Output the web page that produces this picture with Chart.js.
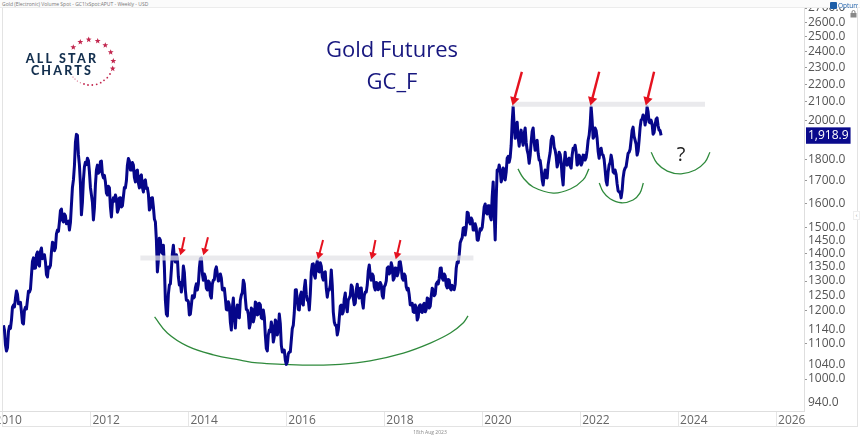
<!DOCTYPE html>
<html><head><meta charset="utf-8">
<script src="https://cdn.jsdelivr.net/npm/chart.js@4"></script>
<style>
html,body{margin:0;padding:0;width:860px;height:438px;overflow:hidden;background:#fff;font-family:"Open Sans",sans-serif}
#wrap{position:absolute;left:-20px;top:0;width:880px;height:438px}
.o{position:absolute;white-space:nowrap;z-index:3}
.t{transform:translate(-50%,-50%)}
</style></head><body>
<div id="wrap"><canvas id="c" width="880" height="438"></canvas></div>
<div class="o" style="left:0;top:0;width:860px;height:8px;background:#fbfbfb;border-bottom:1px solid #ececec;box-sizing:border-box"></div>
<div class="o" style="left:2px;top:1px;font-size:5px;line-height:6px;color:#777">Gold (Electronic) Volume Spot - GC1!xSpot:APUT - Weekly - USD</div>
<div class="o" style="left:2px;top:8px;width:1px;height:419px;background:#e3e3e3"></div>
<div class="o" style="left:857px;top:8px;width:1px;height:419px;background:#e3e3e3"></div>
<div class="o" style="left:2px;top:426px;width:856px;height:1px;background:#e3e3e3"></div>
<div class="o t" style="left:392px;top:48px;font-size:22px;color:#17177f">Gold Futures</div>
<div class="o t" style="left:392px;top:80px;font-size:22px;color:#17177f">GC_F</div>
<div class="o t" style="left:681px;top:153px;font-size:20px;color:#222">?</div>
<div class="o t" style="left:430px;top:432px;font-size:5px;color:#888">18th Aug 2023</div>
<div class="o t" style="left:62px;top:58px;font-family:Lato,sans-serif;font-weight:900;font-size:12.5px;letter-spacing:2.2px;color:#14304f">ALL STAR</div>
<div class="o t" style="left:62px;top:70px;font-family:Lato,sans-serif;font-weight:900;font-size:12.5px;letter-spacing:2.2px;color:#14304f">CHARTS</div>
<svg id="logo" class="o" style="left:0;top:0" width="130" height="95"></svg>
<div class="o" style="left:830px;top:2px;width:7px;height:7px;background:#1c5ea8;border-radius:1px"></div>
<div class="o" style="left:838px;top:1px;width:20px;overflow:hidden;font-size:6.5px;line-height:9px;color:#1c5ea8">Optuma</div>
<svg class="o" style="left:850px;top:10px" width="7" height="8"><rect x="0.5" y="3" width="6" height="4.5" fill="#888"/><path d="M2 3V2a1.5 1.5 0 0 1 3 0V3" fill="none" stroke="#888"/></svg>
<div class="o" style="left:853px;top:211px;width:5px;height:7px;border:1px solid #eee;font-size:5px;line-height:7px;text-align:center;color:#777;background:#fff;box-sizing:content-box">‹</div>
<script>
const firstSampleYear = 2010.224;
const sampleStepYears = 2 / 49;
const prices = [
1155,1095,1087,1152,1171,1219,1242,1255,1225,1197,1159,1212,1235,1262,1321,1383,1346,1405,1353,1420,
1383,1368,1314,1346,1405,1439,1420,1490,1523,1576,1523,1548,1523,1490,1594,1704,1885,1920,1773,1552,
1704,1787,1806,1741,1637,1531,1681,1773,1741,1792,1713,1695,1637,1668,1543,1624,1637,1563,1624,1585,
1629,1668,1773,1792,1750,1773,1695,1750,1668,1727,1650,1704,1668,1572,1624,1585,1523,1332,1458,1405,
1431,1235,1184,1286,1339,1431,1368,1383,1286,1262,1353,1269,1235,1187,1219,1242,1276,1269,1346,1383,
1303,1314,1269,1296,1242,1303,1339,1325,1303,1310,1269,1242,1203,1219,1140,1242,1146,1219,1178,1252,
1303,1242,1203,1146,1209,1165,1229,1187,1225,1178,1203,1125,1078,1140,1165,1104,1171,1125,1190,1095,
1081,1052,1047,1075,1110,1155,1269,1235,1203,1262,1219,1303,1235,1203,1332,1361,1310,1372,1332,1353,
1303,1332,1245,1269,1339,1197,1155,1125,1178,1219,1197,1259,1197,1242,1286,1242,1225,1289,1242,1276,
1209,1262,1286,1357,1303,1318,1269,1293,1276,1286,1242,1286,1346,1325,1365,1303,1346,1318,1368,1346,
1303,1318,1269,1252,1219,1197,1219,1171,1216,1197,1219,1197,1242,1209,1248,1269,1255,1296,1310,1346,
1303,1318,1276,1303,1269,1276,1289,1368,1394,1451,1498,1470,1563,1523,1539,1490,1515,1451,1474,1490,
1539,1598,1556,1590,1531,1695,1451,1750,1773,1695,1759,1704,1806,1787,1870,2073,1905,1989,1865,1947,
1870,1958,1845,1782,1885,1958,1845,1895,1797,1759,1681,1750,1713,1806,1895,1910,1845,1764,1835,1787,
1681,1835,1773,1806,1759,1855,1870,1773,1821,1773,1821,1797,1845,1920,2073,1905,1958,1905,1806,1855,
1821,1750,1681,1773,1821,1741,1750,1686,1650,1624,1713,1759,1797,1835,1895,1963,1895,1821,1895,2000,
2028,1974,2073,1989,2000,1926,1974,2012,1947,1920
];
// The opposite side of each weekly bar, read between neighbouring samples
const midPrices = [
1140,1078,1136,1145,1212,1213,1266,1223,1228,1162,1202,1206,1265,1272,1370,1345,1395,1358,1407,1380,
1395,1322,1350,1355,1442,1410,1475,1485,1570,1530,1555,1515,1526,1520,1670,1770,1925,1822,1685,1605,
1765,1775,1795,1670,1605,1580,1750,1735,1790,1730,1725,1645,1675,1585,1605,1610,1620,1575,1625,1590,
1670,1700,1805,1750,1785,1715,1745,1690,1720,1670,1700,1665,1640,1580,1625,1535,1450,1375,1450,1400,
1350,1190,1255,1290,1400,1380,1395,1315,1295,1290,1330,1235,1230,1190,1250,1245,1290,1290,1380,1325,
1325,1275,1300,1250,1290,1305,1350,1300,1325,1270,1275,1205,1230,1165,1210,1180,1200,1180,1235,1260,
1290,1205,1190,1160,1205,1180,1225,1190,1220,1175,1180,1085,1125,1135,1150,1120,1165,1140,1160,1075,
1080,1040,1070,1075,1145,1195,1270,1205,1250,1225,1275,1255,1235,1255,1360,1320,1355,1335,1365,1315,
1330,1275,1270,1285,1285,1165,1155,1140,1215,1190,1240,1215,1235,1250,1280,1220,1270,1250,1275,1230,
1250,1262,1335,1320,1325,1280,1295,1270,1295,1250,1280,1300,1350,1330,1350,1310,1345,1330,1370,1310,
1325,1280,1275,1220,1225,1195,1210,1180,1220,1195,1225,1205,1240,1215,1275,1250,1290,1290,1345,1310,
1325,1285,1305,1275,1285,1270,1345,1365,1440,1460,1500,1500,1560,1515,1530,1490,1500,1450,1495,1500,
1585,1560,1590,1545,1630,1560,1620,1745,1750,1710,1750,1740,1815,1810,1990,1970,1965,1910,1920,1895,
1930,1885,1825,1820,1940,1885,1885,1830,1795,1705,1725,1715,1775,1835,1915,1860,1815,1785,1825,1720,
1775,1785,1800,1770,1820,1850,1835,1780,1810,1785,1820,1810,1895,1975,2000,1915,1945,1840,1845,1825,
1800,1700,1740,1785,1795,1735,1730,1655,1650,1655,1745,1765,1830,1850,1945,1915,1875,1840,1960,2005,
2015,2010,2045,1985,1980,1935,2005,1970,1945
];
const seriesPoints = prices.flatMap((p, i) => {
  const year = firstSampleYear + i * sampleStepYears;
  const first = {x: year, y: p};
  return i < midPrices.length ? [first, {x: year + sampleStepYears / 2, y: midPrices[i]}] : [first];
});

const yearTicks = [2010,2012,2014,2016,2018,2020,2022,2024,2026];
const priceTicks = [2700,2600,2500,2400,2300,2200,2100,2000,1800,1700,1600,1500,1450,1400,1350,1300,1250,1200,1140,1100,1040,1000,940];
const unmarkedTicks = [1140,1040,940,1450,1350,1250];
const lastPrice = 1918.9;

const arcLowYears = [2013.31,2013.57,2013.98,2014.51,2015.06,2015.41,2015.98,2016.55,2017.10,2017.71,2018.39,2018.94,2019.35,2019.61,2019.71];
const arcLowPrices = [1181,1131,1092,1067,1052,1044,1040,1038,1040,1050,1072,1101,1131,1162,1184];
const arcAYears = [2020.73,2020.84,2021.04,2021.45,2021.80,2022.06,2022.18];
const arcAPrices = [1755,1713,1672,1645,1663,1704,1755];
const arcBYears = [2022.39,2022.47,2022.61,2022.84,2023.08,2023.22,2023.29];
const arcBPrices = [1690,1650,1620,1603,1615,1645,1690];
const arcCYears = [2023.45,2023.57,2023.78,2024.06,2024.35,2024.55,2024.65];
const arcCPrices = [1835,1782,1745,1732,1750,1787,1835];

const bandLowYears = [2013.02,2019.82];
const bandLowPrices = [1383,1383];
const bandHighYears = [2020.61,2024.55];
const bandHighPrices = [2087,2087];

const arrowTailYears = [2013.92,2014.40,2016.75,2017.82,2018.33,2020.81,2022.39,2023.51];
const arrowHeadYears = [2013.86,2014.33,2016.67,2017.76,2018.26,2020.65,2022.24,2023.37];
const arrowTailPrices = [1462,1462,1451,1451,1451,2276,2276,2276];
const arrowHeadPrices = [1409,1409,1394,1394,1394,2110,2110,2110];

const zip = (xs, ys) => xs.map((x, i) => ({x, y: ys[i]}));
const NAVY = '#06068a', GREEN = '#2f8a3c', RED = '#e5121f';

const arc = (xs, ys) => ({data: zip(xs, ys), borderColor: GREEN, borderWidth: 1.3, pointRadius: 0, tension: 0.4, order: 3});
const band = (xs, ys) => ({data: zip(xs, ys), borderColor: 'rgba(226,226,230,.72)', borderWidth: 5, borderCapStyle: 'butt', pointRadius: 0, order: 1});
const arrows = arrowTailYears.map((x, i) => {
  const big = arrowHeadPrices[i] > 2000;
  return {
    data: [{x, y: arrowTailPrices[i]}, {x: arrowHeadYears[i], y: arrowHeadPrices[i]}],
    borderColor: RED, backgroundColor: RED, borderWidth: big ? 2.4 : 2,
    pointStyle: 'triangle', pointRadius: [0, big ? 5.5 : 4.5], pointRotation: 196, pointBorderWidth: 0, order: 0
  };
});

new Chart(document.getElementById('c'), {
  type: 'line',
  data: {datasets: [
    {data: seriesPoints, borderColor: NAVY, borderWidth: 3, borderJoinStyle: 'round', pointRadius: 0, tension: 0, order: 2},
    band(bandLowYears, bandLowPrices), band(bandHighYears, bandHighPrices),
    arc(arcLowYears, arcLowPrices), arc(arcAYears, arcAPrices), arc(arcBYears, arcBPrices), arc(arcCYears, arcCPrices),
    ...arrows
  ]},
  options: {
    responsive: false, animation: false, devicePixelRatio: 1,
    layout: {padding: {top: 8, left: 0, right: 0, bottom: 0}},
    plugins: {legend: {display: false}, title: {display: false}, tooltip: {enabled: false}},
    scales: {
      x: {
        type: 'linear', min: 2009.857, max: 2026.571,
        afterBuildTicks: s => { s.ticks = yearTicks.map(value => ({value})); },
        afterFit: s => { s.height = 26.5; s.paddingLeft = 0; s.paddingRight = 0; },
        border: {color: '#dedede'},
        grid: {drawOnChartArea: false, tickLength: 15, tickColor: '#e6e6e6'},
        ticks: {align: 'start', labelOffset: 2, padding: -13, autoSkip: false, maxRotation: 0,
          font: {family: '"Open Sans"', size: 12}, color: '#666', callback: v => String(v)}
      },
      y: {
        type: 'logarithmic', position: 'right', min: 916.7, max: 2700,
        afterBuildTicks: s => { s.ticks = [...priceTicks, lastPrice].map(value => ({value})); },
        afterFit: s => { s.width = 56; s.paddingTop = 0; s.paddingBottom = 0; },
        border: {color: '#dedede'},
        grid: {drawOnChartArea: false, tickLength: 3,
          tickColor: c => (c.tick && (unmarkedTicks.includes(c.tick.value) || c.tick.value === lastPrice)) ? 'rgba(0,0,0,0)' : '#999'},
        ticks: {padding: 1, autoSkip: false, maxRotation: 0,
          font: {family: '"Open Sans"', size: 12},
          color: c => c.tick && c.tick.value === lastPrice ? '#fff' : '#555',
          showLabelBackdrop: c => !!(c.tick && c.tick.value === lastPrice),
          backdropColor: '#0a0a8c', backdropPadding: {left: 2, right: 2, top: 1, bottom: 1},
          callback: v => v === lastPrice ? '1,918.9' : v.toFixed(1)}
      }
    }
  }
});

// All Star Charts logo ring
(function () {
  const svg = document.getElementById('logo');
  const bigStars = [[73.3,47.3],[80.3,42],[88.7,39.7],[97.7,41],[105.3,45.3],[110.7,52.3],[113.3,61],[112.7,68.7]];
  const dots = [[110,74],[107.3,77.7],[104,80.3],[100.7,82.7],[96.7,84.3],[92.3,85],[88,85],[84,84],[80.3,82.7],[77.3,81],[75,79],[73,77]];
  let out = '';
  bigStars.forEach(([x, y]) => {
    const pts = [];
    for (let k = 0; k < 10; k++) {
      const r = k % 2 ? 1.3 : 3.1, a = -Math.PI / 2 + k * Math.PI / 5;
      pts.push((x + r * Math.cos(a)).toFixed(1) + ',' + (y + r * Math.sin(a)).toFixed(1));
    }
    out += '<polygon points="' + pts.join(' ') + '" fill="#c2264e"/>';
  });
  dots.forEach(([x, y], i) => { out += '<circle cx="' + x + '" cy="' + y + '" r="' + (i < 8 ? 0.9 : 0.5) + '" fill="#c2264e"/>'; });
  svg.innerHTML = out;
})();
</script>
</body></html>
